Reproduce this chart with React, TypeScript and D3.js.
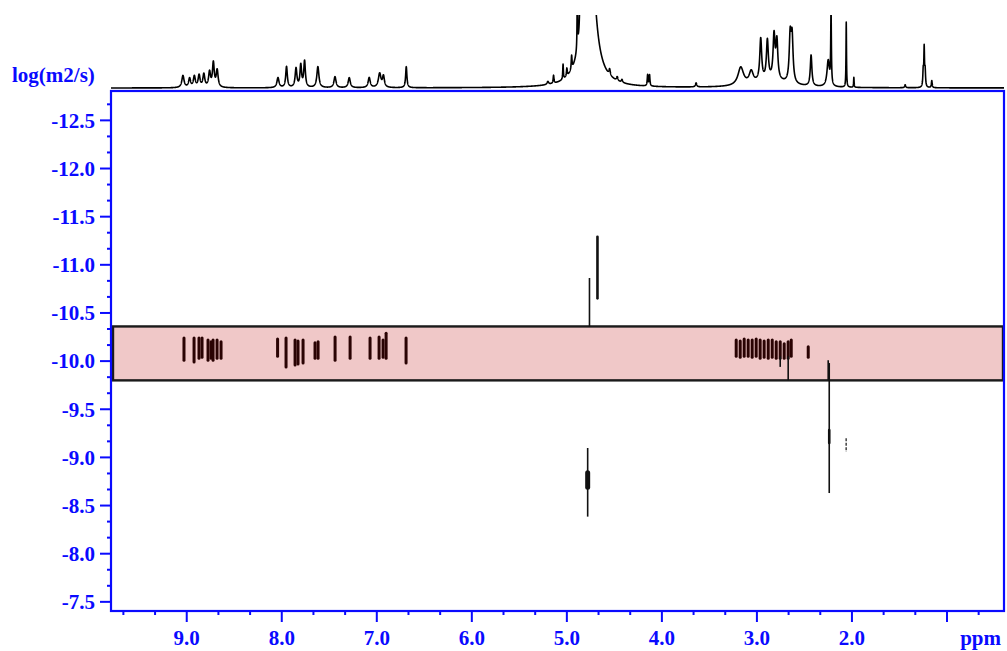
import React, { useEffect } from 'react';
import * as d3 from 'd3';

// ---- axes ----
const X_DOMAIN: [number, number] = [9.797, 0.4];
const Y_DOMAIN: [number, number] = [-12.805, -7.405];
const xMajorTicks = [9, 8, 7, 6, 5, 4, 3, 2, 1];
const xTickLabels = ['9.0', '8.0', '7.0', '6.0', '5.0', '4.0', '3.0', '2.0', ''];
const yMajorTicks = [-12.5, -12, -11.5, -11, -10.5, -10, -9.5, -9, -8.5, -8, -7.5];
const yTickLabels = ['-12.5', '-12.0', '-11.5', '-11.0', '-10.5', '-10.0', '-9.5', '-9.0', '-8.5', '-8.0', '-7.5'];
const yAxisTitle = 'log(m2/s)';
const xAxisTitle = 'ppm';

// ---- highlighted diffusion band (log D) ----
const bandRange: [number, number] = [-10.36, -9.8];

// ---- 1D projection peaks: [ppm, height, half-width ppm] ----
const peakPpm = [
  9.04, 8.97, 8.92, 8.87, 8.82, 8.76, 8.72, 8.68,
  8.04, 7.95, 7.85, 7.8, 7.76, 7.62, 7.44, 7.29, 7.08, 6.97, 6.93, 6.69,
  5.2, 5.14, 5.04, 5.0, 4.95, 4.89, 4.86, 4.78, 4.75, 4.55, 4.47, 4.42,
  4.15, 4.13, 3.64,
  3.17, 3.06, 2.96, 2.89, 2.82, 2.79, 2.65, 2.63, 2.85, 2.43, 2.25, 2.22, 2.06, 1.98,
  1.44, 1.25, 1.24, 1.23, 1.16,
];
const peakHeight = [
  12, 9, 11, 12, 13, 15, 24, 17,
  10, 21, 19, 22, 26, 21, 11, 10, 10, 14, 11, 21,
  3, 8, 15, 8, 14, 60, 60, 1500, 50, 6, 4, 3,
  11, 11, 4,
  18, 12, 42, 39, 43, 38, 45, 44, 7, 31, 26, 74, 65, 10,
  3, 16, 37, 16, 7,
];
const peakWidth = [
  0.014, 0.012, 0.012, 0.012, 0.012, 0.012, 0.011, 0.012,
  0.013, 0.01, 0.011, 0.01, 0.01, 0.013, 0.013, 0.013, 0.013, 0.016, 0.012, 0.008,
  0.01, 0.005, 0.004, 0.005, 0.005, 0.003, 0.004, 0.015, 0.08, 0.008, 0.008, 0.008,
  0.005, 0.005, 0.008,
  0.035, 0.025, 0.012, 0.012, 0.012, 0.012, 0.012, 0.012, 0.2, 0.01, 0.015, 0.004, 0.003, 0.003,
  0.006, 0.005, 0.004, 0.005, 0.005,
];

// ---- DOSY cross peaks inside the band: [ppm, logD top, logD bottom] ----
const bandMarks: [number, number, number][] = [
  [9.029, -10.24, -10.01], [8.923, -10.24, -9.99], [8.871, -10.24, -10.03], [8.839, -10.24, -10.04],
  [8.776, -10.22, -10.01], [8.744, -10.2, -10.03], [8.723, -10.22, -10.01], [8.681, -10.22, -10.03],
  [8.639, -10.2, -10.03],
  [8.044, -10.23, -10.05], [7.955, -10.24, -9.94], [7.86, -10.22, -9.96], [7.829, -10.21, -9.97],
  [7.776, -10.22, -9.98], [7.65, -10.19, -10.03], [7.618, -10.2, -10.03], [7.439, -10.25, -10.01],
  [7.281, -10.25, -10.03], [7.071, -10.24, -10.03], [6.976, -10.25, -10.03], [6.934, -10.22, -10.04],
  [6.902, -10.29, -10.03], [6.692, -10.24, -9.98],
  [3.218, -10.22, -10.05], [3.176, -10.21, -10.04], [3.134, -10.23, -10.05], [3.092, -10.22, -10.05],
  [3.05, -10.22, -10.04], [3.008, -10.23, -10.05], [2.966, -10.22, -10.03], [2.924, -10.21, -10.04],
  [2.881, -10.22, -10.03], [2.839, -10.22, -10.04], [2.797, -10.2, -10.03], [2.755, -10.2, -10.03],
  [2.713, -10.18, -10.03], [2.671, -10.2, -10.03], [2.639, -10.22, -10.05], [2.46, -10.15, -10.04],
];

// ---- thin DOSY traces: [ppm, logD top, logD bottom] ----
const thinMarks: [number, number, number][] = [
  [4.762, -10.863, -10.36],
  [4.781, -9.098, -8.385],
  [2.239, -9.98, -8.63],
  [2.755, -10.05, -9.94],
  [2.671, -10.05, -9.8],
  [2.25, -10.01, -9.8],
];
// ---- thicker DOSY traces ----
const thickMarks: [number, number, number][] = [
  [4.678, -11.292, -10.652],
  [4.781, -8.84, -8.69],
  [2.239, -9.285, -9.15],
];
// ---- dashed weak trace ----
const weakMarks: [number, number, number][] = [
  [2.061, -9.2, -9.056],
];

const W = 1007;
const H = 651;
const BLUE = '#0a0aff';
const FONT = '"Liberation Serif", "Times New Roman", serif';

export default function App() {
  useEffect(() => {
    document.body.style.margin = '0';
  }, []);

  const left = 111, right = 1004, top = 91, bottom = 611;
  const x = d3.scaleLinear().domain(X_DOMAIN).range([left, right]);
  const y = d3.scaleLinear().domain(Y_DOMAIN).range([top, bottom]);
  const ySpec = d3.scaleLinear().domain([0, 73]).range([88, 15]);

  const xMinor = d3.range(0, 30).map(k => 10 - k / 3)
    .filter(v => v <= X_DOMAIN[0] && v >= X_DOMAIN[1] && Math.abs(v - Math.round(v)) > 0.01);
  const yMinor = d3.range(-2, 40).map(k => -12.5 + k / 6)
    .filter(v => v >= Y_DOMAIN[0] && v <= Y_DOMAIN[1] && Math.abs(v * 2 - Math.round(v * 2)) > 0.01);

  const grid = d3.range(X_DOMAIN[0], X_DOMAIN[1] - 0.0005, -0.001).concat(peakPpm);
  grid.sort((a, b) => b - a);
  const spec = grid.map(p => {
    let s = 0;
    for (let i = 0; i < peakPpm.length; i++) {
      const d = (p - peakPpm[i]) / peakWidth[i];
      s += peakHeight[i] / (1 + d * d);
    }
    return [p, s] as [number, number];
  });
  const specLine = d3.line<[number, number]>().x(d => x(d[0])).y(d => ySpec(d[1]))(spec) || '';

  const seg = (m: [number, number, number]) => ({ x: x(m[0]), y1: y(m[1]), y2: y(m[2]) });

  return (
    <svg width={W} height={H} style={{ position: 'absolute', left: 0, top: 0, display: 'block', background: '#fff' }}
      fontFamily={FONT} fontWeight="bold">
      <defs>
        <clipPath id="specClip"><rect x={left - 1} y={15} width={W - left} height={85} /></clipPath>
      </defs>

      {/* 1D spectrum */}
      <path d={specLine} fill="none" stroke="#000" strokeWidth={1.6} strokeLinejoin="round" clipPath="url(#specClip)" />

      {/* band */}
      <rect x={left + 2} y={y(bandRange[0])} width={right - left - 3} height={y(bandRange[1]) - y(bandRange[0])}
        fill="#f0c8c8" stroke="#1a1a1a" strokeWidth={2.4} />

      {/* band marks */}
      {bandMarks.map((m, i) => {
        const s = seg(m);
        return <line key={'b' + i} x1={s.x} x2={s.x} y1={s.y1} y2={s.y2} stroke="#2a0303" strokeWidth={3} strokeLinecap="round" />;
      })}
      {thinMarks.map((m, i) => {
        const s = seg(m);
        return <line key={'t' + i} x1={s.x} x2={s.x} y1={s.y1} y2={s.y2} stroke="#111" strokeWidth={1.6} />;
      })}
      {thickMarks.map((m, i) => {
        const s = seg(m);
        return <line key={'k' + i} x1={s.x} x2={s.x} y1={s.y1} y2={s.y2} stroke="#111" strokeWidth={i === 1 ? 5 : 2.6} strokeLinecap="round" />;
      })}
      {weakMarks.map((m, i) => {
        const s = seg(m);
        return <line key={'w' + i} x1={s.x} x2={s.x} y1={s.y1} y2={s.y2} stroke="#333" strokeWidth={1.4} strokeDasharray="3,1.5" />;
      })}

      {/* frame */}
      <rect x={left} y={top} width={right - left} height={bottom - top} fill="none" stroke={BLUE} strokeWidth={2.2} />

      {/* y axis ticks */}
      {yMajorTicks.map((v, i) => (
        <g key={'ym' + i}>
          <line x1={left - 11} x2={left} y1={y(v)} y2={y(v)} stroke={BLUE} strokeWidth={2} />
          <text x={95} y={y(v)} dy="0.35em" textAnchor="end" fill={BLUE} fontSize={21}>{yTickLabels[i]}</text>
        </g>
      ))}
      {yMinor.map((v, i) => (
        <line key={'yn' + i} x1={left - 4} x2={left} y1={y(v)} y2={y(v)} stroke={BLUE} strokeWidth={2} />
      ))}

      {/* x axis ticks */}
      {xMajorTicks.map((v, i) => (
        <g key={'xm' + i}>
          <line x1={x(v)} x2={x(v)} y1={bottom} y2={bottom + 11} stroke={BLUE} strokeWidth={2} />
          {xTickLabels[i] && (
            <text x={x(v)} y={645} textAnchor="middle" fill={BLUE} fontSize={21}>{xTickLabels[i]}</text>
          )}
        </g>
      ))}
      {xMinor.map((v, i) => (
        <line key={'xn' + i} x1={x(v)} x2={x(v)} y1={bottom} y2={bottom + 4} stroke={BLUE} strokeWidth={2} />
      ))}

      <text x={12} y={82} fill={BLUE} fontSize={21}>{yAxisTitle}</text>
      <text x={1001} y={645} textAnchor="end" fill={BLUE} fontSize={21}>{xAxisTitle}</text>
    </svg>
  );
}
